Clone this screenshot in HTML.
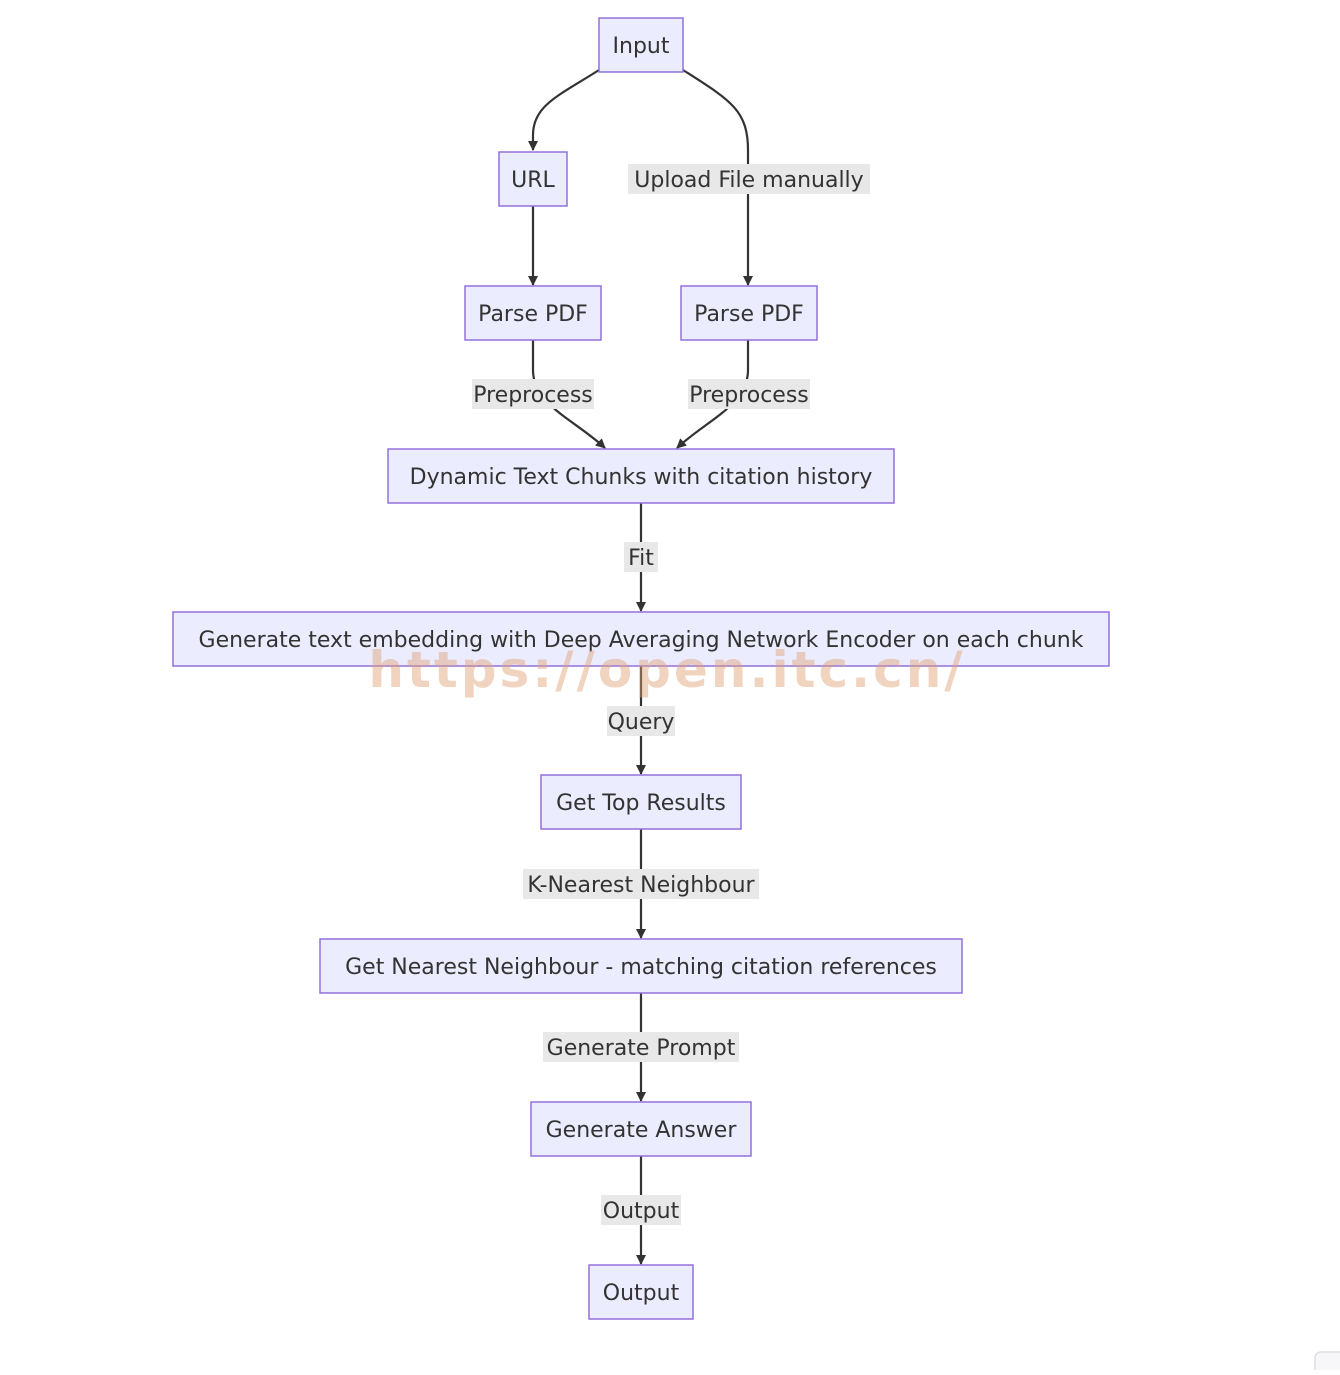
<!DOCTYPE html>
<html><head><meta charset="utf-8"><style>
html,body{margin:0;padding:0;background:#fff;}
svg text{font-family:"DejaVu Sans","Liberation Sans",sans-serif;font-size:22px;fill:#333;}
</style></head><body>
<svg width="1340" height="1370" viewBox="0 0 1340 1370" xmlns="http://www.w3.org/2000/svg">
<defs><marker id="a" markerWidth="10" markerHeight="10" refX="9" refY="5" orient="auto" markerUnits="userSpaceOnUse"><path d="M0,0 L10,5 L0,10 z" fill="#333"/></marker></defs>
<g fill="none" stroke="#333" stroke-width="2.2">
<path d="M599,70 C560,95 533,105 533,135 L533,150" marker-end="url(#a)"/>
<path d="M683,70 C730,100 748,110 748,150 L748,285" marker-end="url(#a)"/>
<path d="M533,206 L533,285" marker-end="url(#a)"/>
<path d="M533,340 L533,370 C533,405 575,420 605,448" marker-end="url(#a)"/>
<path d="M748,340 L748,370 C748,405 707,420 677,448" marker-end="url(#a)"/>
<path d="M641,503 L641,611" marker-end="url(#a)"/>
<path d="M641,666 L641,774" marker-end="url(#a)"/>
<path d="M641,829 L641,938" marker-end="url(#a)"/>
<path d="M641,993 L641,1101" marker-end="url(#a)"/>
<path d="M641,1156 L641,1264" marker-end="url(#a)"/>
</g>
<g fill="#e8e8e8">
<rect x="628" y="164" width="242" height="30"/>
<rect x="472" y="379" width="122" height="30"/>
<rect x="688" y="379" width="122" height="30"/>
<rect x="624" y="542" width="34" height="30"/>
<rect x="607" y="706" width="68" height="30"/>
<rect x="523" y="869" width="236" height="30"/>
<rect x="543" y="1032" width="196" height="30"/>
<rect x="601" y="1195" width="80" height="30"/>
</g>
<g text-anchor="middle">
<text x="749" y="187">Upload File manually</text>
<text x="533" y="402">Preprocess</text>
<text x="749" y="402">Preprocess</text>
<text x="641" y="565">Fit</text>
<text x="641" y="729">Query</text>
<text x="641" y="892">K-Nearest Neighbour</text>
<text x="641" y="1055">Generate Prompt</text>
<text x="641" y="1218">Output</text>
</g>
<g fill="#ECECFF" stroke="#9370DB" stroke-width="1.5">
<rect x="599" y="18" width="84" height="54"/>
<rect x="499" y="152" width="68" height="54"/>
<rect x="465" y="286" width="136" height="54"/>
<rect x="681" y="286" width="136" height="54"/>
<rect x="388" y="449" width="506" height="54"/>
<rect x="173" y="612" width="936" height="54"/>
<rect x="541" y="775" width="200" height="54"/>
<rect x="320" y="939" width="642" height="54"/>
<rect x="531" y="1102" width="220" height="54"/>
<rect x="589" y="1265" width="104" height="54"/>
</g>
<g text-anchor="middle">
<text x="641" y="53">Input</text>
<text x="533" y="187">URL</text>
<text x="533" y="321">Parse PDF</text>
<text x="749" y="321">Parse PDF</text>
<text x="641" y="484">Dynamic Text Chunks with citation history</text>
<text x="641" y="647">Generate text embedding with Deep Averaging Network Encoder on each chunk</text>
<text x="641" y="810">Get Top Results</text>
<text x="641" y="974">Get Nearest Neighbour - matching citation references</text>
<text x="641" y="1137">Generate Answer</text>
<text x="641" y="1300">Output</text>
</g>
<text x="667" y="687" text-anchor="middle" style="font-size:50px;font-weight:bold;fill:#dfa070;fill-opacity:0.45;letter-spacing:3px;">https://open.itc.cn/</text>
<rect x="1315" y="1352" width="40" height="40" rx="6" fill="#f7f7fa" stroke="#ddd" stroke-width="1.5"/>
</svg>
</body></html>
